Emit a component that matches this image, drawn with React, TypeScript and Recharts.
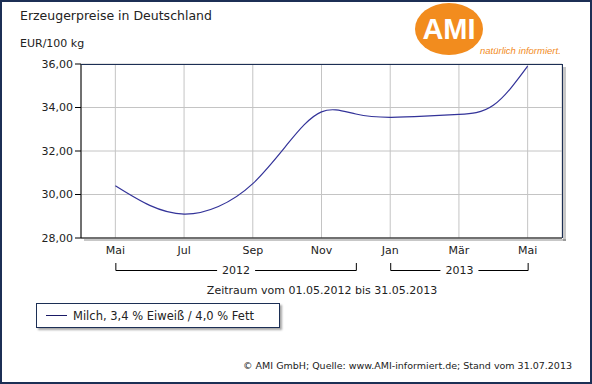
import React from "react";
import {
  LineChart,
  Line,
  XAxis,
  YAxis,
  CartesianGrid,
} from "recharts";

// monthly producer price, May 2012 .. May 2013
const months = ["Mai", "Jun", "Jul", "Aug", "Sep", "Okt", "Nov", "Dez", "Jan", "Feb", "Mär", "Apr", "Mai"];
const milch = [30.4, 29.5, 29.1, 29.45, 30.5, 32.3, 33.8, 33.7, 33.55, 33.6, 33.68, 34.1, 35.9];
const yTicks = [28, 30, 32, 34, 36];
const xTicks = [0, 2, 4, 6, 8, 10, 12];
const years = [
  { label: "2012", from: 0, to: 7 },
  { label: "2013", from: 8, to: 12 },
];

const data = months.map((m, i) => ({ i, month: m, milch: milch[i] }));

const W = 592;
const H = 384;
const PLOT = { left: 81, top: 64, right: 562, bottom: 238 };
const X_DOMAIN: [number, number] = [-1, 13];
const FONT = "'DejaVu Sans', Verdana, sans-serif";
const NAVY = "#1c2f55";
const LINE = "#333399";

// same mapping as the chart's x scale, for the year brackets
const xPos = (v: number) =>
  PLOT.left + ((v - X_DOMAIN[0]) / (X_DOMAIN[1] - X_DOMAIN[0])) * (PLOT.right - PLOT.left);

function LegendBox() {
  return (
    <div
      style={{
        position: "absolute",
        left: 36,
        top: 303,
        width: 244,
        height: 25,
        border: `1px solid ${NAVY}`,
        boxShadow: "2px 2px 2px rgba(0,0,0,0.35)",
        background: "#fff",
        display: "flex",
        alignItems: "center",
        fontFamily: FONT,
        fontSize: 11.5,
        color: "#222",
        boxSizing: "border-box",
      }}
    >
      <span style={{ display: "inline-block", width: 21, height: 1, background: "#1a1a66", margin: "0 6px 0 9px" }} />
      Milch, 3,4 % Eiweiß / 4,0 % Fett
    </div>
  );
}

export default function App() {
  return (
    <div
      style={{
        position: "absolute",
        left: 0,
        top: 0,
        width: W,
        height: H,
        background: "#fff",
        fontFamily: FONT,
      }}
    >
      <LineChart
        width={W}
        height={H}
        data={data}
        margin={{ top: PLOT.top, right: W - PLOT.right, left: 0, bottom: 0 }}
      >
        <CartesianGrid stroke="#c4c4c4" strokeWidth={1} />
        <XAxis
          dataKey="i"
          type="number"
          domain={X_DOMAIN}
          ticks={xTicks}
          tickFormatter={(v) => months[v]}
          height={H - PLOT.bottom}
          axisLine={{ stroke: "#000" }}
          tickLine={false}
          tick={{ fontSize: 11, fill: "#222", fontFamily: FONT }}
          tickMargin={2}
          interval={0}
        />
        <YAxis
          domain={[28, 36]}
          ticks={yTicks}
          width={PLOT.left}
          tickFormatter={(v) => v.toFixed(2).replace(".", ",")}
          axisLine={{ stroke: "#000" }}
          tickLine={{ stroke: "#000" }}
          tickSize={6}
          tick={{ fontSize: 11, fill: "#222", fontFamily: FONT }}
          tickMargin={2}
        />
        <Line
          type="natural"
          dataKey="milch"
          stroke={LINE}
          strokeWidth={1.2}
          dot={false}
          isAnimationActive={false}
        />
      </LineChart>

      <LegendBox />

      <svg
        width={W}
        height={H}
        style={{ position: "absolute", left: 0, top: 0, pointerEvents: "none" }}
      >
        {/* plot frame top/right + shadow */}
        <rect x={PLOT.right + 1} y={PLOT.top + 3} width={3} height={PLOT.bottom - PLOT.top} fill="rgba(0,0,0,0.22)" />
        <rect x={PLOT.left + 3} y={PLOT.bottom + 1} width={PLOT.right - PLOT.left + 1} height={2} fill="rgba(0,0,0,0.22)" />
        <line x1={PLOT.left} y1={PLOT.top + 0.5} x2={PLOT.right + 0.5} y2={PLOT.top + 0.5} stroke={NAVY} />
        <line x1={PLOT.right + 0.5} y1={PLOT.top} x2={PLOT.right + 0.5} y2={PLOT.bottom} stroke={NAVY} />

        <text x={20} y={20} fontSize={12.5} fill="#222" fontFamily={FONT}>
          Erzeugerpreise in Deutschland
        </text>
        <text x={20} y={47} fontSize={11} fill="#222" fontFamily={FONT}>
          EUR/100 kg
        </text>

        {/* logo */}
        <ellipse cx={449} cy={29} rx={34} ry={26} fill="#f28c1e" />
        <text x={449} y={39} textAnchor="middle" fontSize={29} fontWeight="bold" fill="#fff" fontFamily="'Liberation Sans', Arial, sans-serif">
          AMI
        </text>
        <text x={480} y={54} fontSize={9.5} fontStyle="italic" fill="#f28c1e" fontFamily="'Liberation Sans', Arial, sans-serif">
          natürlich informiert.
        </text>

        {/* year brackets */}
        {years.map((y) => {
          const a = xPos(y.from) + 0.5;
          const b = xPos(y.to) + 0.5;
          const mid = (a + b) / 2;
          return (
            <g key={y.label} stroke="#000" strokeWidth={1} fill="none">
              <path d={`M${a},263 V270.5 H${mid - 19} M${mid + 19},270.5 H${b} V263`} />
              <text x={mid} y={274} textAnchor="middle" fontSize={11} fill="#222" stroke="none" fontFamily={FONT}>
                {y.label}
              </text>
            </g>
          );
        })}

        <text x={322} y={294} textAnchor="middle" fontSize={11} fill="#222" fontFamily={FONT}>
          Zeitraum vom 01.05.2012 bis 31.05.2013
        </text>
        <text x={572} y={369} textAnchor="end" fontSize={9.5} fill="#222" fontFamily={FONT}>
          © AMI GmbH; Quelle: www.AMI-informiert.de; Stand vom 31.07.2013
        </text>

        <rect x={1} y={1} width={W - 2} height={H - 2} fill="none" stroke={NAVY} strokeWidth={2} />
      </svg>
    </div>
  );
}
